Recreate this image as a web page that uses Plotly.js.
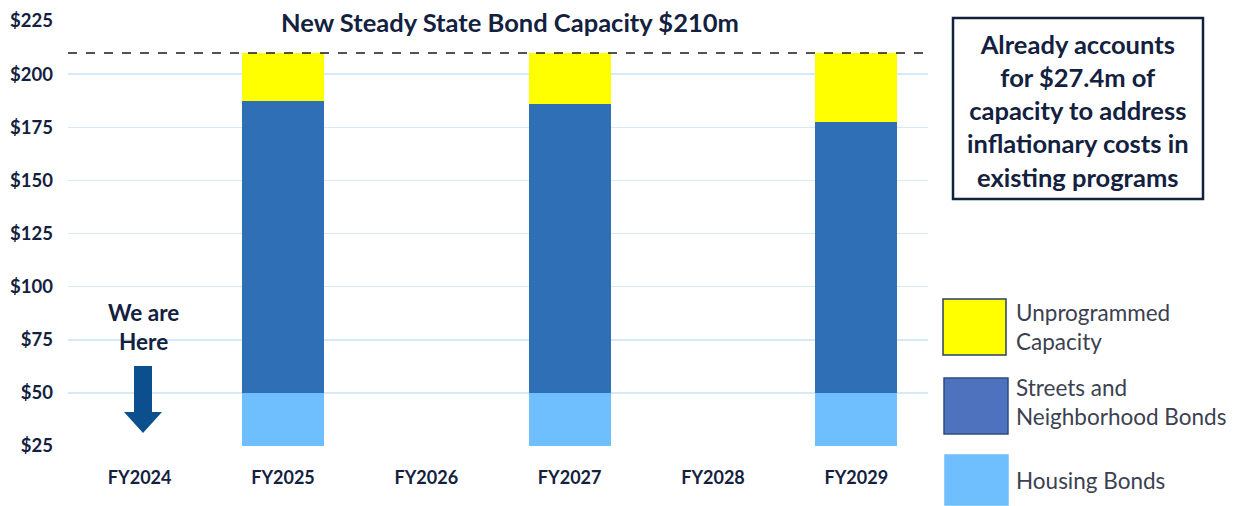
<!DOCTYPE html>
<html><head><meta charset="utf-8">
<script src="https://cdn.plot.ly/plotly-3.0.1.min.js"></script>
<style>html,body{margin:0;padding:0;background:#fff;}#chart{width:1238px;height:506px;}</style>
</head><body><div id="chart"></div>
<script>
const categories = ["FY2024","FY2025","FY2026","FY2027","FY2028","FY2029"];
const housingBonds = [null, 50, null, 50, null, 50];
const streetsBonds = [null, 137.5, null, 136, null, 127.5];
const unprogrammed = [null, 22.5, null, 24, null, 32.5];
const capacityLine = 210;
const yTicks = [25, 50, 75, 100, 125, 150, 175, 200, 225];

const navy = "#13213f";
const FONT = "Lato, 'Open Sans', sans-serif";

const traces = [
  {type:"bar", name:"Housing Bonds", x:categories, y:housingBonds, marker:{color:"#6fbfff"}, width:0.57, showlegend:false, hoverinfo:"skip"},
  {type:"bar", name:"Streets and Neighborhood Bonds", x:categories, y:streetsBonds, marker:{color:"#2f6fb6"}, width:0.57, showlegend:false, hoverinfo:"skip"},
  {type:"bar", name:"Unprogrammed Capacity", x:categories, y:unprogrammed, marker:{color:"#ffff00"}, width:0.57, showlegend:false, hoverinfo:"skip"}
];

// paper helpers for decorative elements (pixel -> paper)
const L=68, R=928, T=21, B=446;
const px = v => (v-L)/(R-L);
const py = v => (B-v)/(B-T);

const arrowPath = `M ${px(134)} ${py(366)} L ${px(152)} ${py(366)} L ${px(152)} ${py(412)} L ${px(162)} ${py(412)} L ${px(143)} ${py(433)} L ${px(124)} ${py(412)} L ${px(134)} ${py(412)} Z`;

const legendItems = [
  {label:"Unprogrammed<br>Capacity", color:"#ffff00", line:"#2a3f6a", y0:299, y1:355, x0:943, x1:1006, ty:327},
  {label:"Streets and<br>Neighborhood Bonds", color:"#4f72be", line:"#2a4f80", y0:378, y1:434, x0:944, x1:1008, ty:402},
  {label:"Housing Bonds", color:"#6fbfff", line:"#6fbfff", y0:455, y1:505, x0:945, x1:1008, ty:480}
];

const shapes = [
  {type:"line", xref:"paper", yref:"y", x0:0, x1:px(930), y0:capacityLine, y1:capacityLine, line:{color:"#1a1a1a", width:1.5, dash:"dash"}},
  {type:"path", xref:"paper", yref:"paper", path:arrowPath, fillcolor:"#0b4f8f", line:{width:0}},
  {type:"rect", xref:"paper", yref:"paper", x0:px(953), x1:px(1203), y0:py(199), y1:py(18), line:{color:navy, width:2.5}, fillcolor:"rgba(0,0,0,0)"}
];
const annotations = [
  {xref:"paper", yref:"paper", x:px(510), y:py(22), text:"<b>New Steady State Bond Capacity $210m</b>", showarrow:false, font:{size:25.5, color:navy, family:FONT}, xanchor:"center", yanchor:"middle"},
  {xref:"paper", yref:"paper", x:px(143), y:py(327), text:"<b>We are<br>Here</b>", showarrow:false, font:{size:22.5, color:navy, family:FONT}, xanchor:"center", yanchor:"middle"},
  {xref:"paper", yref:"paper", x:px(1078), y:py(110), text:"<b>Already accounts<br>for $27.4m of<br>capacity to address<br>inflationary costs in<br>existing programs</b>", showarrow:false, font:{size:25.5, color:navy, family:FONT}, xanchor:"center", yanchor:"middle", align:"center"}
];
legendItems.forEach(it => {
  shapes.push({type:"rect", xref:"paper", yref:"paper", x0:px(it.x0), x1:px(it.x1), y0:py(it.y1), y1:py(it.y0), fillcolor:it.color, line:{color:it.line, width:1.5}});
  annotations.push({xref:"paper", yref:"paper", x:px(1014), y:py(it.ty), text:it.label, showarrow:false, xanchor:"left", yanchor:"middle", align:"left", font:{size:22.5, color:"#3b4150", family:FONT}});
});

const layout = {
  width:1238, height:506,
  margin:{l:L, r:1238-R, t:T, b:506-B, pad:0},
  paper_bgcolor:"#fff", plot_bgcolor:"#fff",
  barmode:"stack", bargap:0.43,
  showlegend:false,
  font:{family:FONT, color:navy},
  xaxis:{type:"category", categoryorder:"array", categoryarray:categories, showgrid:false, zeroline:false, showline:false, ticks:"", tickfont:{size:18, color:navy, family:FONT, weight:"bold"}, ticklabelstandoff:19},
  yaxis:{range:[25,225], tickvals:yTicks, ticktext:yTicks.map(v=>"$"+v), showgrid:true, gridcolor:"#d6e9f8", gridwidth:1.5, zeroline:false, showline:false, ticks:"", tickfont:{size:18.5, color:navy, family:FONT, weight:"bold"}, ticklabelstandoff:14},
  shapes, annotations
};
Plotly.newPlot("chart", traces, layout, {staticPlot:true, displayModeBar:false});
</script></body></html>
